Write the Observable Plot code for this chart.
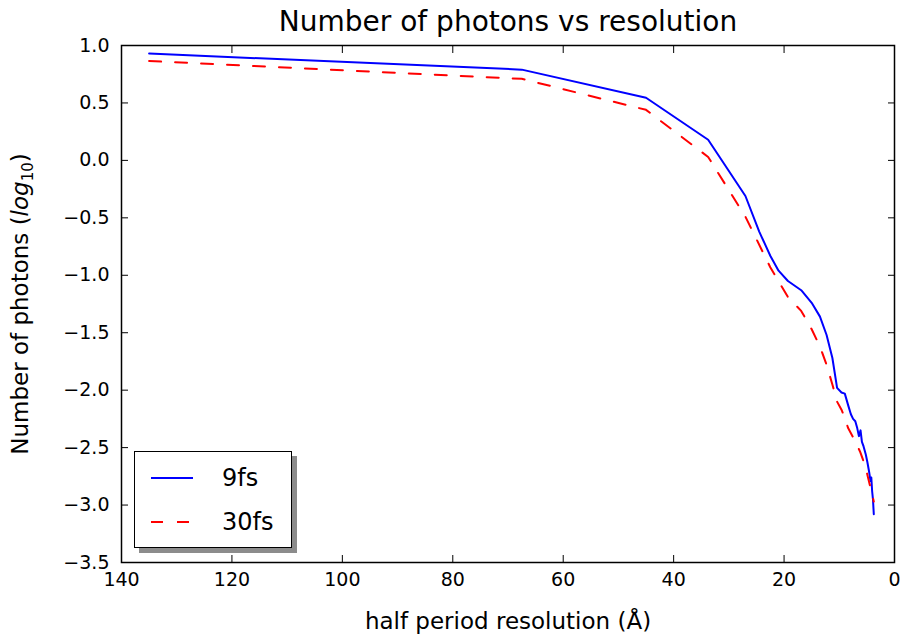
<!DOCTYPE html>
<html><head><meta charset="utf-8">
<script src="https://cdn.jsdelivr.net/npm/d3@7"></script>
<script src="https://cdn.jsdelivr.net/npm/@observablehq/plot@0.6"></script>
<style>
body{margin:0;background:#fff;font-family:"DejaVu Sans",sans-serif;}
#wrap{position:relative;width:903px;height:636px;}
#legend{position:absolute;left:134px;top:451px;width:156px;height:95px;border:1.5px solid #000;background:#fff;box-shadow:5px 5px 0 rgba(0,0,0,0.45);}
.lrow{position:absolute;left:0;width:100%;height:30px;}
.lrow svg{position:absolute;left:16px;top:0;}
.lrow span{position:absolute;left:87px;top:0;line-height:30px;font-size:24px;color:#000;}
</style></head><body><div id="wrap"></div>
<script>
const chartTitle = "Number of photons vs resolution";
const xLabel = "half period resolution (Å)";
const seriesNames = ["9fs", "30fs"];
const seriesColors = ["blue", "red"];
const xTicks = [140, 120, 100, 80, 60, 40, 20, 0];
const yTicks = [1.0, 0.5, 0.0, -0.5, -1.0, -1.5, -2.0, -2.5, -3.0, -3.5];

const res9 = [135, 67.5, 45, 33.75, 27, 24.5, 22.5, 21, 19.3, 16.9, 15, 13.5, 12.3, 11.25, 10.4, 9.6, 9.0, 8.4, 7.9, 7.5, 7.1, 6.75, 6.45, 6.15, 5.9, 5.6, 5.2, 4.9, 4.6, 4.35, 4.2, 4.05, 3.9, 3.75];
const photons9 = [0.93, 0.79, 0.545, 0.18, -0.31, -0.62, -0.83, -0.96, -1.05, -1.13, -1.24, -1.36, -1.52, -1.72, -1.98, -2.02, -2.03, -2.13, -2.21, -2.25, -2.27, -2.33, -2.40, -2.35, -2.45, -2.49, -2.56, -2.63, -2.71, -2.79, -2.76, -2.88, -2.95, -3.08];

const res30 = [135, 67.5, 45, 33.75, 27, 22.5, 19.3, 16.9, 15, 13.5, 12.3, 11.25, 10.4, 9.6, 9.0, 8.4, 7.5, 6.75, 6.2, 5.6, 5.0, 4.5, 4.1, 3.75];
const photons30 = [0.865, 0.71, 0.44, 0.03, -0.49, -0.93, -1.19, -1.31, -1.47, -1.62, -1.78, -1.95, -2.1, -2.17, -2.24, -2.33, -2.41, -2.48, -2.54, -2.62, -2.72, -2.82, -2.89, -2.97];

const data9 = res9.map((r, i) => ({r, p: photons9[i]}));
const data30 = res30.map((r, i) => ({r, p: photons30[i]}));

const tickFont = 19;
const chart = Plot.plot({
  width: 903, height: 636,
  marginLeft: 121, marginRight: 9, marginTop: 45, marginBottom: 74,
  style: {fontFamily: "DejaVu Sans", color: "#000", background: "#fff"},
  x: {domain: [140, 0]},
  y: {domain: [-3.5, 1.0]},
  marks: [
    Plot.line(data9, {x: "r", y: "p", stroke: seriesColors[0], strokeWidth: 2}),
    Plot.line(data30, {x: "r", y: "p", stroke: seriesColors[1], strokeWidth: 2, strokeDasharray: "12,14"}),
    Plot.frame({stroke: "#000", strokeWidth: 1.5}),
    Plot.axisX({ticks: xTicks, anchor: "bottom", tickSize: 0, tickPadding: 10, fontSize: tickFont, label: null, tickFormat: d => String(d)}),
    Plot.axisX({ticks: xTicks, anchor: "bottom", tickSize: 7, dy: -7, text: null, label: null}),
    Plot.axisX({ticks: xTicks, anchor: "top", tickSize: 7, dy: 7, text: null, label: null}),
    Plot.axisY({ticks: yTicks, anchor: "left", tickSize: 0, tickPadding: 12, fontSize: tickFont, label: null, tickFormat: d3.format(".1f")}),
    Plot.axisY({ticks: yTicks, anchor: "left", tickSize: 7, dx: 7, text: null, label: null}),
    Plot.axisY({ticks: yTicks, anchor: "right", tickSize: 7, dx: -7, text: null, label: null}),
    Plot.text([chartTitle], {frameAnchor: "top", lineAnchor: "middle", textAnchor: "middle", dy: -23, fontSize: 28, fill: "#000"}),
    Plot.text([xLabel], {frameAnchor: "bottom", lineAnchor: "middle", textAnchor: "middle", dy: 59, fontSize: 23, fill: "#000"}),
    Plot.text(["Number of photons"], {frameAnchor: "left", lineAnchor: "middle", textAnchor: "middle", dx: -101, rotate: -90, fontSize: 23, fill: "#000", className: "ylab"})
  ]
});
document.getElementById("wrap").appendChild(chart);

// y label with italic log and subscript 10
const yl = d3.select(chart).select("g.ylab text");
if (!yl.empty()) {
  yl.text(null);
  yl.append("tspan").text("Number of photons (");
  yl.append("tspan").attr("font-style", "italic").text("log");
  yl.append("tspan").attr("font-size", "15").attr("dy", "5").text("10");
  yl.append("tspan").attr("dy", "-5").text(")");
}

// legend
const legend = d3.select("#wrap").append("div").attr("id", "legend");
const rowTops = [11, 55];
seriesNames.forEach((name, i) => {
  const row = legend.append("div").attr("class", "lrow").style("top", rowTops[i] + "px");
  const svg = row.append("svg").attr("width", 44).attr("height", 30);
  svg.append("line").attr("x1", 0).attr("x2", 42).attr("y1", 15).attr("y2", 15)
    .attr("stroke", seriesColors[i]).attr("stroke-width", 2)
    .attr("stroke-dasharray", i === 1 ? "12,14" : null);
  row.append("span").text(name);
});
</script>
</body></html>
